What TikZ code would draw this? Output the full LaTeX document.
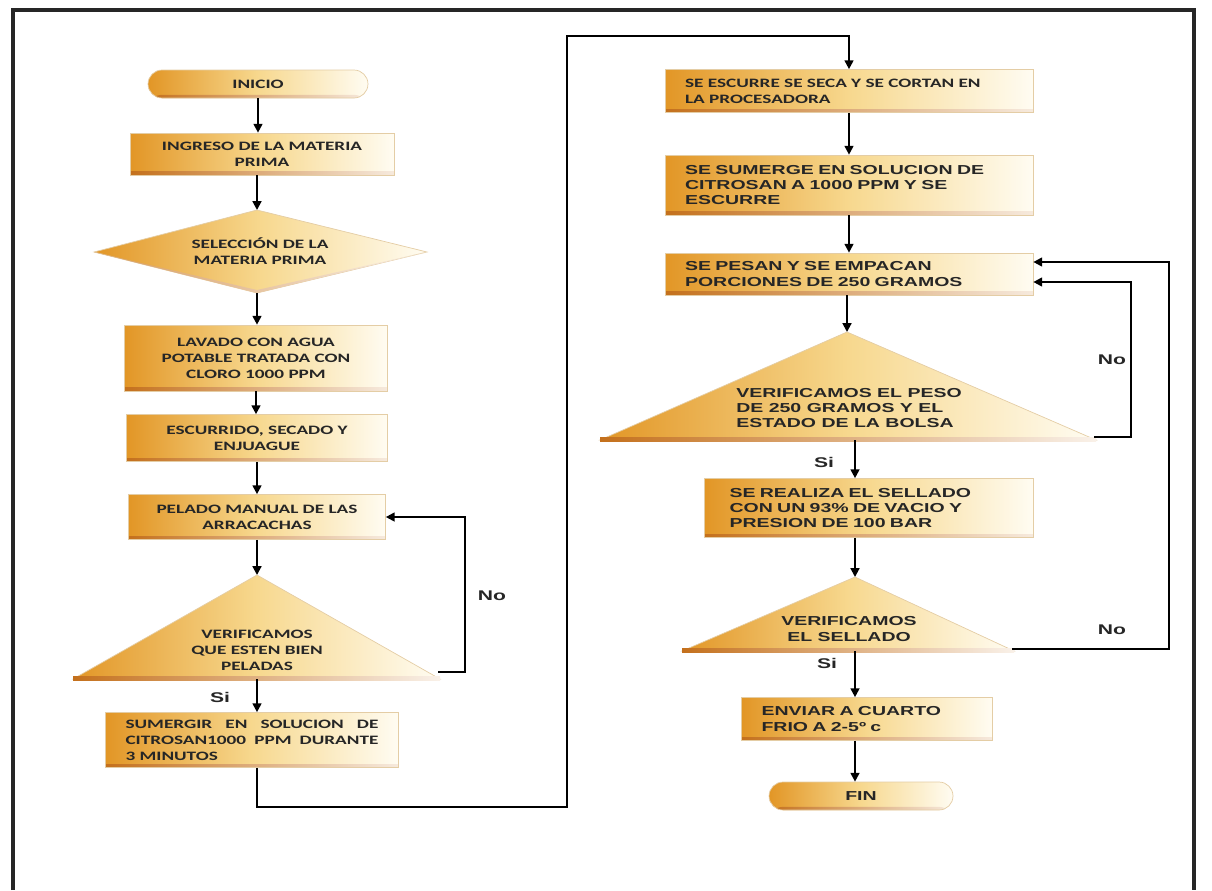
\documentclass[tikz,border=0pt]{standalone}
\usepackage{fontspec}
\usetikzlibrary{arrows.meta,calc}
\newfontfamily\fcal[FakeStretch=1.5]{Carlito}
\newfontfamily\fari[FakeStretch=1.5]{Liberation Sans}
\newcommand\lfnt{\fcal\bfseries\fontsize{7.3pt}{9.1pt}\selectfont}
\newcommand\rfnt{\fari\bfseries\fontsize{7.4pt}{8.8pt}\selectfont}
\newcommand\labfnt{\fari\bfseries\fontsize{8pt}{9pt}\selectfont}
\definecolor{gL}{RGB}{226,150,38}
\definecolor{gM}{RGB}{247,216,142}
\definecolor{gR}{RGB}{255,252,242}
\definecolor{edge}{RGB}{196,112,28}
\definecolor{brd}{RGB}{228,205,165}
\begin{document}
\begin{tikzpicture}[x=0.02cm,y=-0.02cm,
  box/.style={draw=brd, line width=0.4pt, left color=gL, right color=gR, middle color=gM,
    inner sep=0pt, inner xsep=0.4cm, text=black!85,
    path picture={\shade[left color=edge, right color=edge!15]
      ([yshift=1.8pt]path picture bounding box.south west) rectangle (path picture bounding box.south east);}},
  term/.style={box, rounded corners=0.28cm, minimum height=0.56cm},
  tri/.style={draw=brd, line width=0.4pt, left color=gL, right color=gR, middle color=gM},
  ltxt/.style={font=\lfnt, text=black!85},
  rtxt/.style={font=\rfnt, text=black!85},
  arr/.style={draw=black, line width=1.1pt, -{Triangle[length=5pt,width=5pt]}},
  lab/.style={font=\labfnt, text=black!85, inner sep=0pt}]
\useasboundingbox (0,0) rectangle (1212,890);
% frame
\draw[line width=2pt, black!85] (13,890) -- (13,10) -- (1194,10) -- (1194,890);

% ---------- left column ----------
\node[term, ltxt, minimum width=4.4cm] (inicio) at (258,84) {INICIO};
\node[box, ltxt, minimum width=5.28cm, minimum height=0.84cm, align=center] (ingreso) at (262,154)
  {INGRESO DE LA MATERIA\\PRIMA};
\coordinate (d1t) at (257,210); \coordinate (d1b) at (257,293);
\path[tri] (d1t) -- (427,252) -- (d1b) -- (94,252) -- cycle;
\shade[left color=edge!70, right color=edge!10] (94,252) -- (257,293) -- (427,252) -- (257,290) -- cycle;
\node[ltxt, align=center, inner sep=0pt] (sel) at (260,251) {SELECCIÓN DE LA\\MATERIA PRIMA};
\node[box, ltxt, minimum width=5.26cm, minimum height=1.32cm, align=center] (lavado) at (256,358)
  {LAVADO CON AGUA\\POTABLE TRATADA CON\\CLORO 1000 PPM};
\node[box, ltxt, minimum width=5.22cm, minimum height=0.94cm, align=center] (escurrido) at (257,438)
  {ESCURRIDO, SECADO Y\\ENJUAGUE};
\node[box, ltxt, minimum width=5.14cm, minimum height=0.9cm, align=center] (pelado) at (257,517)
  {PELADO MANUAL DE LAS\\ARRACACHAS};
\coordinate (t1a) at (257,575); \coordinate (t1b) at (257,679); \coordinate (t1r) at (438,672);
\path[tri] (t1a) -- (440,679) -- (73,679) -- cycle;
\shade[left color=edge, right color=edge!10] (73,676) rectangle (440,680);
\node[ltxt, align=center, inner sep=0pt] (ver1) at (257,650) {VERIFICAMOS\\QUE ESTEN BIEN\\PELADAS};
\node[box, ltxt, text width=5.06cm, minimum height=1.1cm, align=left] (sumergir) at (252,740)
  {SUMERGIR\hfill EN\hfill SOLUCION\hfill DE\\CITROSAN1000\hfill PPM\hfill DURANTE\\3 MINUTOS};

\draw[arr] (inicio.south) -- (inicio.south |- ingreso.north);
\draw[arr] (ingreso.south -| d1t) -- (d1t);
\draw[arr] (d1b) -- (d1b |- lavado.north);
\draw[arr] (lavado.south) -- (lavado.south |- escurrido.north);
\draw[arr] (escurrido.south) -- (escurrido.south |- pelado.north);
\draw[arr] (pelado.south) -- (t1a);
\draw[arr] (t1r) -- ++(27,0) |- (pelado.east);
\node[lab] (no1) at (492,596) {No};
\draw[arr] (t1b) -- (t1b |- sumergir.north);
\node[lab] (si1) at (220,697) {Si};
\coordinate (cbot) at (567,807); \coordinate (ctop) at (567,36);

% ---------- right column ----------
\node[box, ltxt, text width=6.56cm, minimum height=0.86cm, align=left] (escurre) at (849,91)
  {SE ESCURRE SE SECA Y SE CORTAN EN\\LA PROCESADORA};
\node[box, rtxt, text width=6.56cm, minimum height=1.2cm, align=left] (sumerge) at (849,185)
  {SE SUMERGE EN SOLUCION DE\\CITROSAN A 1000 PPM Y SE\\ESCURRE};
\node[box, rtxt, text width=6.56cm, minimum height=0.84cm, align=left] (pesan) at (849,274)
  {SE PESAN Y SE EMPACAN\\PORCIONES DE 250 GRAMOS};
\coordinate (t2a) at (847,332); \coordinate (t2b) at (855,440); \coordinate (t2r) at (1094,437);
\path[tri] (t2a) -- (1096,440) -- (600,440) -- cycle;
\shade[left color=edge, right color=edge!10] (600,437) rectangle (1096,441);
\node[rtxt, align=left, inner sep=0pt] (ver2) at (849,408)
  {VERIFICAMOS EL PESO\\DE 250 GRAMOS Y EL\\ESTADO DE LA BOLSA};
\node[box, rtxt, text width=5.58cm, inner xsep=0.5cm, minimum height=1.18cm, align=left] (realiza) at (869,508)
  {SE REALIZA EL SELLADO\\CON UN 93\% DE VACIO Y\\PRESION DE 100 BAR};
\coordinate (t3a) at (855,577); \coordinate (t3b) at (855,651); \coordinate (t3r) at (1012,649);
\path[tri] (t3a) -- (1014,651) -- (682,651) -- cycle;
\shade[left color=edge, right color=edge!10] (682,648) rectangle (1014,652);
\node[rtxt, align=center, inner sep=0pt] (ver3) at (849,629) {VERIFICAMOS\\EL SELLADO};
\node[box, rtxt, text width=4.22cm, minimum height=0.86cm, align=left] (enviar) at (867,719)
  {ENVIAR A CUARTO\\FRIO A 2-5º c};
\node[term, rtxt, minimum width=3.68cm] (fin) at (861,796) {FIN};

\draw[arr] (sumergir.south -| t1b) |- (cbot) -- (ctop) -| (escurre.north);
\draw[arr] (escurre.south) -- (escurre.south |- sumerge.north);
\draw[arr] (sumerge.south) -- (sumerge.south |- pesan.north);
\draw[arr] (pesan.south -| t2a) -- (t2a);
\draw[arr] (t2r) -- ++(37,0) |- ($(pesan.east)+(0,8)$);
\node[lab] (no2) at (1112,360) {No};
\draw[arr] (t2b) -- (t2b |- realiza.north);
\node[lab] (si2) at (824,462) {Si};
\draw[arr] (realiza.south -| t3a) -- (t3a);
\draw[arr] (t3r) -- ++(157,0) |- ($(pesan.east)+(0,-12)$);
\node[lab] (no3) at (1112,630) {No};
\draw[arr] (t3b) -- (t3b |- enviar.north);
\node[lab] (si3) at (827,663) {Si};
\draw[arr] (enviar.south -| t3b) -- (t3b |- fin.north);
\end{tikzpicture}
\end{document}
